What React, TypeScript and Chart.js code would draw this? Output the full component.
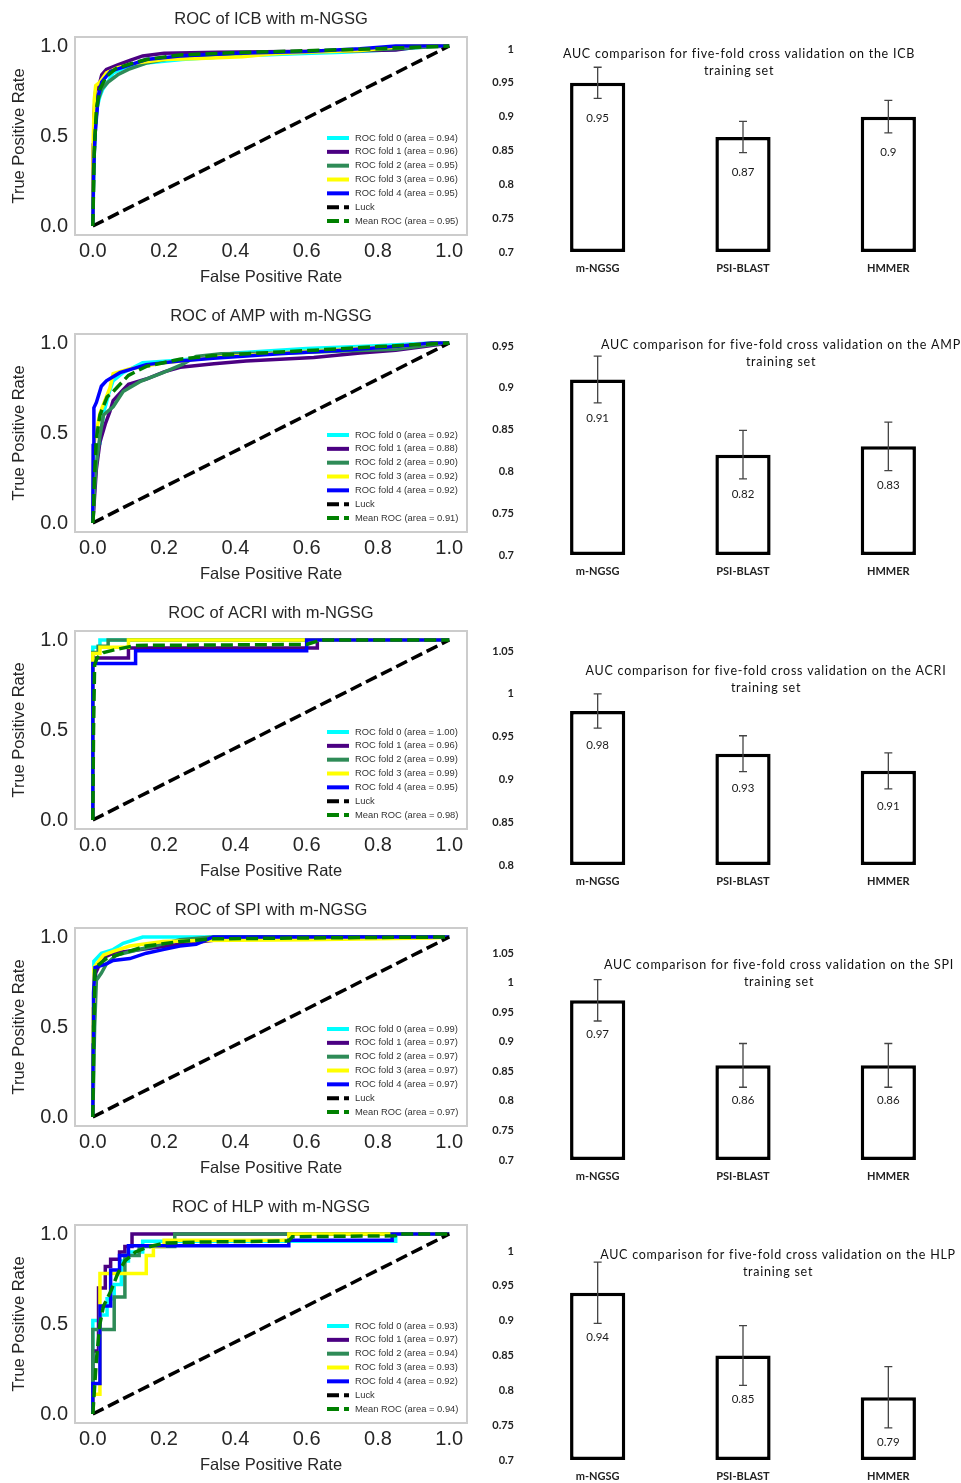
import React, { useEffect, useRef } from 'react';
import { Chart, registerables } from 'chart.js';

Chart.register(...registerables);

type Pt = [number, number];

// ---------- shared ----------
const ROC_X_TICKS = [0, 0.2, 0.4, 0.6, 0.8, 1.0];
const ROC_Y_TICKS = [0, 0.5, 1.0];
const FOLD_COLORS = ['#00ffff', '#4b0082', '#2e8b57', '#ffff00', '#0000ff'];
const LUCK: Pt[] = [[0, 0], [1, 1]];
const BAR_CATEGORIES = ['m-NGSG', 'PSI-BLAST', 'HMMER'];

// ---------- ICB ----------
const ICB_AREAS = [0.94, 0.96, 0.95, 0.96, 0.95];
const ICB_MEAN_AREA = 0.95;
const ICB_FOLD_0: Pt[] = [[0, 0], [0.002, 0.3], [0.006, 0.55], [0.012, 0.66], [0.02, 0.72], [0.028, 0.76], [0.045, 0.81], [0.057, 0.85], [0.08, 0.87], [0.15, 0.905], [0.25, 0.925], [0.4, 0.945], [0.55, 0.955], [0.7, 0.965], [0.85, 0.98], [0.96, 1], [1, 1]];
const ICB_FOLD_1: Pt[] = [[0, 0], [0.001, 0.45], [0.003, 0.62], [0.008, 0.75], [0.02, 0.8], [0.025, 0.84], [0.038, 0.87], [0.07, 0.895], [0.104, 0.92], [0.14, 0.945], [0.2, 0.96], [0.35, 0.965], [0.55, 0.97], [0.7, 0.972], [0.85, 0.978], [0.93, 1], [1, 1]];
const ICB_FOLD_2: Pt[] = [[0, 0], [0.003, 0.35], [0.008, 0.58], [0.015, 0.7], [0.025, 0.76], [0.043, 0.8], [0.07, 0.84], [0.1, 0.87], [0.15, 0.905], [0.244, 0.94], [0.4, 0.955], [0.55, 0.965], [0.75, 0.975], [0.9, 0.99], [1, 1]];
const ICB_FOLD_3: Pt[] = [[0, 0], [0.001, 0.45], [0.004, 0.7], [0.008, 0.78], [0.02, 0.8], [0.038, 0.85], [0.07, 0.88], [0.12, 0.905], [0.2, 0.925], [0.3, 0.93], [0.42, 0.94], [0.5, 0.955], [0.6, 0.965], [0.75, 0.975], [0.88, 1], [1, 1]];
const ICB_FOLD_4: Pt[] = [[0, 0], [0.002, 0.3], [0.006, 0.5], [0.015, 0.72], [0.025, 0.8], [0.05, 0.86], [0.09, 0.885], [0.15, 0.925], [0.244, 0.945], [0.4, 0.96], [0.6, 0.97], [0.75, 0.985], [0.85, 1], [1, 1]];
const ICB_MEAN: Pt[] = [[0, 0], [0.002, 0.2], [0.004, 0.41], [0.01, 0.65], [0.02, 0.76], [0.038, 0.83], [0.065, 0.875], [0.104, 0.9], [0.15, 0.925], [0.244, 0.95], [0.385, 0.962], [0.62, 0.975], [0.8, 0.985], [0.9, 0.993], [1, 1]];
const ICB_AUC = [0.95, 0.87, 0.9];
const ICB_ERR = [0.023, 0.023, 0.024];
const ICB_BAR_TICKS = [0.7, 0.75, 0.8, 0.85, 0.9, 0.95, 1];

// ---------- AMP ----------
const AMP_AREAS = [0.92, 0.88, 0.9, 0.92, 0.92];
const AMP_MEAN_AREA = 0.91;
const AMP_FOLD_0: Pt[] = [[0, 0], [0.002, 0.2], [0.005, 0.41], [0.02, 0.44], [0.025, 0.52], [0.03, 0.61], [0.045, 0.72], [0.057, 0.79], [0.085, 0.835], [0.14, 0.89], [0.25, 0.905], [0.4, 0.945], [0.6, 0.97], [0.8, 0.985], [0.95, 1], [1, 1]];
const AMP_FOLD_1: Pt[] = [[0, 0], [0.005, 0.15], [0.01, 0.3], [0.02, 0.45], [0.035, 0.55], [0.048, 0.62], [0.057, 0.68], [0.08, 0.73], [0.1, 0.77], [0.15, 0.8], [0.2, 0.84], [0.245, 0.865], [0.34, 0.885], [0.43, 0.9], [0.62, 0.92], [0.75, 0.945], [0.85, 0.96], [0.93, 0.98], [1, 1]];
const AMP_FOLD_2: Pt[] = [[0, 0], [0.005, 0.2], [0.01, 0.33], [0.02, 0.485], [0.03, 0.6], [0.057, 0.645], [0.085, 0.73], [0.132, 0.785], [0.197, 0.835], [0.25, 0.88], [0.29, 0.925], [0.36, 0.94], [0.55, 0.945], [0.7, 0.955], [0.85, 0.965], [0.95, 0.99], [1, 1]];
const AMP_FOLD_3: Pt[] = [[0, 0], [0.002, 0.43], [0.02, 0.61], [0.048, 0.75], [0.057, 0.83], [0.1, 0.855], [0.2, 0.89], [0.34, 0.92], [0.52, 0.945], [0.7, 0.965], [0.85, 0.98], [0.95, 1], [1, 1]];
const AMP_FOLD_4: Pt[] = [[0, 0], [0.001, 0.43], [0.003, 0.64], [0.01, 0.67], [0.024, 0.76], [0.038, 0.79], [0.076, 0.835], [0.15, 0.88], [0.244, 0.9], [0.338, 0.915], [0.525, 0.94], [0.7, 0.96], [0.85, 0.98], [0.95, 1], [1, 1]];
const AMP_MEAN: Pt[] = [[0, 0], [0.002, 0.06], [0.004, 0.23], [0.01, 0.47], [0.02, 0.6], [0.04, 0.7], [0.057, 0.73], [0.1, 0.82], [0.15, 0.87], [0.244, 0.91], [0.338, 0.93], [0.525, 0.95], [0.62, 0.96], [0.8, 0.98], [0.9, 0.99], [1, 1]];
const AMP_AUC = [0.91, 0.82, 0.83];
const AMP_ERR = [0.028, 0.029, 0.029];
const AMP_BAR_TICKS = [0.7, 0.75, 0.8, 0.85, 0.9, 0.95];

// ---------- ACRI ----------
const ACRI_AREAS = [1.0, 0.96, 0.99, 0.99, 0.95];
const ACRI_MEAN_AREA = 0.98;
const ACRI_FOLD_0: Pt[] = [[0, 0], [0, 0.96], [0.02, 0.96], [0.02, 1], [1, 1]];
const ACRI_FOLD_1: Pt[] = [[0, 0], [0, 0.9], [0.1, 0.9], [0.1, 0.955], [0.63, 0.955], [0.63, 1], [1, 1]];
const ACRI_FOLD_2: Pt[] = [[0, 0], [0, 0.93], [0.015, 0.93], [0.015, 0.965], [0.043, 0.965], [0.043, 1], [1, 1]];
const ACRI_FOLD_3: Pt[] = [[0, 0], [0, 0.925], [0.02, 0.925], [0.02, 0.96], [0.1, 0.96], [0.1, 1], [1, 1]];
const ACRI_FOLD_4: Pt[] = [[0, 0], [0, 0.87], [0.12, 0.87], [0.12, 0.94], [0.6, 0.94], [0.6, 1], [1, 1]];
const ACRI_MEAN: Pt[] = [[0, 0], [0.002, 0.5], [0.005, 0.86], [0.012, 0.9], [0.03, 0.93], [0.06, 0.945], [0.12, 0.97], [0.6, 0.975], [0.64, 1], [1, 1]];
const ACRI_AUC = [0.98, 0.93, 0.91];
const ACRI_ERR = [0.02, 0.021, 0.021];
const ACRI_BAR_TICKS = [0.8, 0.85, 0.9, 0.95, 1, 1.05];

// ---------- SPI ----------
const SPI_AREAS = [0.99, 0.97, 0.97, 0.97, 0.97];
const SPI_MEAN_AREA = 0.97;
const SPI_FOLD_0: Pt[] = [[0, 0], [0.001, 0.5], [0.003, 0.865], [0.024, 0.91], [0.057, 0.93], [0.085, 0.965], [0.14, 1], [1, 1]];
const SPI_FOLD_1: Pt[] = [[0, 0], [0.002, 0.5], [0.008, 0.8], [0.015, 0.83], [0.024, 0.88], [0.057, 0.91], [0.15, 0.935], [0.245, 0.96], [0.35, 0.985], [0.45, 1], [1, 1]];
const SPI_FOLD_2: Pt[] = [[0, 0], [0.005, 0.5], [0.01, 0.76], [0.024, 0.8], [0.038, 0.85], [0.066, 0.9], [0.15, 0.94], [0.245, 0.985], [0.338, 1], [1, 1]];
const SPI_FOLD_3: Pt[] = [[0, 0], [0.001, 0.6], [0.003, 0.83], [0.03, 0.9], [0.057, 0.92], [0.104, 0.95], [0.197, 0.975], [0.3, 0.98], [0.6, 0.985], [0.95, 0.995], [1, 1]];
const SPI_FOLD_4: Pt[] = [[0, 0], [0.001, 0.4], [0.002, 0.69], [0.006, 0.83], [0.038, 0.85], [0.057, 0.87], [0.104, 0.88], [0.15, 0.91], [0.197, 0.93], [0.244, 0.95], [0.29, 0.96], [0.338, 1], [1, 1]];
const SPI_MEAN: Pt[] = [[0, 0], [0.003, 0.5], [0.006, 0.83], [0.038, 0.88], [0.085, 0.91], [0.15, 0.95], [0.244, 0.975], [0.338, 0.99], [0.62, 0.995], [1, 1]];
const SPI_AUC = [0.97, 0.86, 0.86];
const SPI_ERR = [0.035, 0.037, 0.037];
const SPI_BAR_TICKS = [0.7, 0.75, 0.8, 0.85, 0.9, 0.95, 1, 1.05];

// ---------- HLP ----------
const HLP_AREAS = [0.93, 0.97, 0.94, 0.93, 0.92];
const HLP_MEAN_AREA = 0.94;
const HLP_FOLD_0: Pt[] = [[0, 0], [0, 0.52], [0.02, 0.52], [0.02, 0.55], [0.04, 0.55], [0.04, 0.64], [0.06, 0.64], [0.06, 0.72], [0.08, 0.72], [0.08, 0.85], [0.1, 0.85], [0.1, 0.9], [0.14, 0.9], [0.14, 0.96], [0.85, 0.96], [0.85, 1], [1, 1]];
const HLP_FOLD_1: Pt[] = [[0, 0], [0, 0.35], [0.016, 0.35], [0.016, 0.7], [0.035, 0.7], [0.035, 0.82], [0.05, 0.82], [0.05, 0.86], [0.075, 0.86], [0.075, 0.9], [0.09, 0.9], [0.09, 0.93], [0.11, 0.93], [0.11, 1], [1, 1]];
const HLP_FOLD_2: Pt[] = [[0, 0], [0, 0.47], [0.06, 0.47], [0.06, 0.65], [0.09, 0.65], [0.09, 0.88], [0.13, 0.88], [0.13, 0.93], [0.23, 0.93], [0.23, 1], [1, 1]];
const HLP_FOLD_3: Pt[] = [[0, 0], [0, 0.11], [0.02, 0.11], [0.02, 0.78], [0.15, 0.78], [0.15, 0.88], [0.17, 0.88], [0.17, 0.93], [0.2, 0.93], [0.2, 0.965], [0.55, 0.965], [0.55, 1], [1, 1]];
const HLP_FOLD_4: Pt[] = [[0, 0], [0, 0.17], [0.02, 0.17], [0.02, 0.6], [0.05, 0.6], [0.05, 0.8], [0.075, 0.8], [0.075, 0.88], [0.1, 0.88], [0.1, 0.935], [0.55, 0.935], [0.55, 0.965], [0.84, 0.965], [0.84, 1], [1, 1]];
const HLP_MEAN: Pt[] = [[0, 0], [0.01, 0.3], [0.02, 0.5], [0.03, 0.6], [0.05, 0.68], [0.07, 0.78], [0.09, 0.85], [0.12, 0.9], [0.15, 0.925], [0.2, 0.95], [0.3, 0.955], [0.55, 0.962], [0.56, 0.985], [0.85, 0.99], [0.86, 1], [1, 1]];
const HLP_AUC = [0.94, 0.85, 0.79];
const HLP_ERR = [0.044, 0.043, 0.044];
const HLP_BAR_TICKS = [0.7, 0.75, 0.8, 0.85, 0.9, 0.95, 1];

// ---------- assembled rows (built from the arrays above) ----------
const ROWS = [
  { name: 'ICB', folds: [ICB_FOLD_0, ICB_FOLD_1, ICB_FOLD_2, ICB_FOLD_3, ICB_FOLD_4], areas: ICB_AREAS, mean: ICB_MEAN, meanArea: ICB_MEAN_AREA, auc: ICB_AUC, err: ICB_ERR, ticks: ICB_BAR_TICKS },
  { name: 'AMP', folds: [AMP_FOLD_0, AMP_FOLD_1, AMP_FOLD_2, AMP_FOLD_3, AMP_FOLD_4], areas: AMP_AREAS, mean: AMP_MEAN, meanArea: AMP_MEAN_AREA, auc: AMP_AUC, err: AMP_ERR, ticks: AMP_BAR_TICKS },
  { name: 'ACRI', folds: [ACRI_FOLD_0, ACRI_FOLD_1, ACRI_FOLD_2, ACRI_FOLD_3, ACRI_FOLD_4], areas: ACRI_AREAS, mean: ACRI_MEAN, meanArea: ACRI_MEAN_AREA, auc: ACRI_AUC, err: ACRI_ERR, ticks: ACRI_BAR_TICKS },
  { name: 'SPI', folds: [SPI_FOLD_0, SPI_FOLD_1, SPI_FOLD_2, SPI_FOLD_3, SPI_FOLD_4], areas: SPI_AREAS, mean: SPI_MEAN, meanArea: SPI_MEAN_AREA, auc: SPI_AUC, err: SPI_ERR, ticks: SPI_BAR_TICKS },
  { name: 'HLP', folds: [HLP_FOLD_0, HLP_FOLD_1, HLP_FOLD_2, HLP_FOLD_3, HLP_FOLD_4], areas: HLP_AREAS, mean: HLP_MEAN, meanArea: HLP_MEAN_AREA, auc: HLP_AUC, err: HLP_ERR, ticks: HLP_BAR_TICKS },
];

// layout (pixels), separate from the data
const ROW_STEP = 297;
const BAR_LAYOUT = [
  { areaTop: 49, areaBottom: 252, titleX: 259, titleY: 54, labelGap: 19.5 },
  { areaTop: 49, areaBottom: 258, titleX: 301, titleY: 48, labelGap: 15 },
  { areaTop: 57, areaBottom: 271, titleX: 286, titleY: 77, labelGap: 17 },
  { areaTop: 62, areaBottom: 269, titleX: 299, titleY: 74, labelGap: 13 },
  { areaTop: 63, areaBottom: 272, titleX: 298, titleY: 67, labelGap: 14 },
];

const SANS = '"Liberation Sans", Arial, sans-serif';
const CAL = 'Lato, "Open Sans", sans-serif';
const TXT = '#262626';

// ---------- plugins ----------
const framePlugin = {
  id: 'rocFrame',
  afterDraw(chart: any) {
    const { ctx, chartArea: ca } = chart;
    ctx.save();
    ctx.strokeStyle = '#cccccc';
    ctx.lineWidth = 2;
    ctx.strokeRect(ca.left, ca.top, ca.right - ca.left, ca.bottom - ca.top);
    ctx.restore();
  },
};

const rocLegendPlugin = {
  id: 'rocLegend',
  afterDraw(chart: any) {
    const { ctx, chartArea: ca } = chart;
    const ds = chart.data.datasets;
    const n = ds.length;
    ctx.save();
    ctx.font = `9.4px ${SANS}`;
    ctx.textBaseline = 'middle';
    ctx.textAlign = 'left';
    ds.forEach((d: any, i: number) => {
      const y = ca.bottom - 14 - (n - 1 - i) * 13.83;
      ctx.strokeStyle = d.borderColor;
      ctx.lineWidth = 4;
      ctx.lineCap = 'butt';
      ctx.setLineDash(d.borderDash || []);
      ctx.beginPath();
      ctx.moveTo(ca.right - 140, y);
      ctx.lineTo(ca.right - 118, y);
      ctx.stroke();
      ctx.setLineDash([]);
      ctx.fillStyle = '#333333';
      ctx.fillText(d.label, ca.right - 112, y);
    });
    ctx.restore();
  },
};

const barTitlePlugin = {
  id: 'barTitle',
  afterDraw(chart: any, _args: any, opts: any) {
    const { ctx } = chart;
    ctx.save();
    ctx.font = `${opts.size}px ${CAL}`;
    ctx.fillStyle = '#111111';
    ctx.textAlign = 'center';
    ctx.textBaseline = 'middle';
    if ('letterSpacing' in ctx) (ctx as any).letterSpacing = `${opts.spacing}px`;
    (opts.lines as string[]).forEach((l, i) => ctx.fillText(l, opts.x, opts.y + i * opts.gap));
    ctx.restore();
  },
};

const barExtrasPlugin = {
  id: 'barExtras',
  afterDatasetsDraw(chart: any, _args: any, opts: any) {
    const { ctx } = chart;
    const meta = chart.getDatasetMeta(0);
    const ys = chart.scales.y;
    const vals = chart.data.datasets[0].data as number[];
    const errs = opts.errors as number[];
    ctx.save();
    meta.data.forEach((bar: any, i: number) => {
      const v = vals[i];
      const e = errs[i];
      const x = bar.x;
      const yT = ys.getPixelForValue(v + e);
      const yB = ys.getPixelForValue(v - e);
      ctx.strokeStyle = '#444444';
      ctx.lineWidth = 1.3;
      ctx.beginPath();
      ctx.moveTo(x, yT); ctx.lineTo(x, yB);
      ctx.moveTo(x - 4, yT); ctx.lineTo(x + 4, yT);
      ctx.moveTo(x - 4, yB); ctx.lineTo(x + 4, yB);
      ctx.stroke();
      ctx.fillStyle = '#1a1a1a';
      ctx.font = `11.5px ${CAL}`;
      ctx.textAlign = 'center';
      ctx.textBaseline = 'middle';
      ctx.fillText(String(v), x, yB + opts.labelGap);
    });
    ctx.restore();
  },
};

// ---------- components ----------
function RocChart({ row, index }: { row: any; index: number }) {
  const ref = useRef<HTMLCanvasElement>(null);
  useEffect(() => {
    if (!ref.current) return;
    const toXY = (a: Pt[]) => a.map(([x, y]) => ({ x, y }));
    const datasets: any[] = row.folds.map((f: Pt[], i: number) => ({
      label: `ROC fold ${i} (area = ${row.areas[i].toFixed(2)})`,
      data: toXY(f),
      borderColor: FOLD_COLORS[i],
      borderWidth: 3.5,
      order: 10 - i,
    }));
    datasets.push({ label: 'Luck', data: toXY(LUCK), borderColor: '#000000', borderWidth: 3.5, borderDash: [12, 5], order: 2 });
    datasets.push({ label: `Mean ROC (area = ${row.meanArea.toFixed(2)})`, data: toXY(row.mean), borderColor: '#008000', borderWidth: 3.5, borderDash: [12, 5], order: 1 });

    const tickFont = { family: SANS, size: 20 };
    const labFont = { family: SANS, size: 16.5, weight: 'normal' as const };
    const chart = new Chart(ref.current, {
      type: 'line',
      data: { datasets },
      options: {
        responsive: false,
        animation: false,
        devicePixelRatio: 1,
        layout: { padding: { left: 0, right: 13, top: 0, bottom: 0 } },
        elements: { point: { radius: 0 }, line: { tension: 0, fill: false, borderJoinStyle: 'miter' } },
        plugins: {
          legend: { display: false },
          tooltip: { enabled: false },
          title: { display: true, text: `ROC of ${row.name} with m-NGSG`, fullSize: false, font: labFont, color: TXT, padding: { top: 10, bottom: 7.2 } },
        },
        scales: {
          x: {
            type: 'linear', min: -0.05, max: 1.05, bounds: 'data',
            grid: { display: false, drawTicks: false }, border: { display: false },
            ticks: { font: tickFont, color: TXT, padding: 4, maxRotation: 0, callback: (v: any) => Number(v).toFixed(1) },
            afterBuildTicks: (a: any) => { a.ticks = ROC_X_TICKS.map((value) => ({ value })); },
            afterFit: (s: any) => { s.height = 55; },
            title: { display: true, text: 'False Positive Rate', font: labFont, color: TXT, padding: { top: 0, bottom: 3 } },
          },
          y: {
            type: 'linear', min: -0.05, max: 1.05, bounds: 'data',
            grid: { display: false, drawTicks: false }, border: { display: false },
            ticks: { font: tickFont, color: TXT, padding: 7, callback: (v: any) => Number(v).toFixed(1) },
            afterBuildTicks: (a: any) => { a.ticks = ROC_Y_TICKS.map((value) => ({ value })); },
            afterFit: (s: any) => { s.width = 75; },
            title: { display: true, text: 'True Positive Rate', font: labFont, color: TXT, padding: { top: 10, bottom: 0 } },
          },
        },
      } as any,
      plugins: [framePlugin, rocLegendPlugin],
    });
    return () => chart.destroy();
  }, [row]);
  return (
    <canvas ref={ref} width={480} height={290}
      style={{ position: 'absolute', left: 0, top: index * ROW_STEP, width: 480, height: 290 }} />
  );
}

function BarChart({ row, index }: { row: any; index: number }) {
  const ref = useRef<HTMLCanvasElement>(null);
  const lay = BAR_LAYOUT[index];
  const h = lay.areaBottom + 22;
  useEffect(() => {
    if (!ref.current) return;
    const ticks: number[] = row.ticks;
    const catFont = { family: CAL, size: 11, weight: 'bold' as const };
    const chart = new Chart(ref.current, {
      type: 'bar',
      data: {
        labels: BAR_CATEGORIES,
        datasets: [{
          data: row.auc,
          base: ticks[0],
          backgroundColor: '#ffffff',
          borderColor: '#000000',
          borderWidth: 3.5,
          borderSkipped: false,
          categoryPercentage: 1,
          barPercentage: 0.38,
        }],
      },
      options: {
        responsive: false,
        animation: false,
        devicePixelRatio: 1,
        layout: { padding: { left: 0, right: 0, top: lay.areaTop, bottom: 0 } },
        plugins: {
          legend: { display: false },
          tooltip: { enabled: false },
          barTitle: {
            lines: [`AUC comparison for five-fold cross validation on the ${row.name}`, 'training set'],
            x: lay.titleX, y: lay.titleY, gap: 16.7, size: 12.5, spacing: 0.75,
          },
          barExtras: { errors: row.err, labelGap: lay.labelGap },
        },
        scales: {
          x: {
            grid: { display: false, drawTicks: false }, border: { display: false },
            ticks: { font: catFont, color: '#222222', padding: 9.5 },
            afterFit: (s: any) => { s.height = 22; },
          },
          y: {
            min: ticks[0], max: ticks[ticks.length - 1], bounds: 'data',
            grid: { display: false, drawTicks: false }, border: { display: false },
            ticks: { font: catFont, color: '#222222', padding: 11, callback: (v: any) => String(parseFloat(Number(v).toFixed(2))) },
            afterBuildTicks: (a: any) => { a.ticks = ticks.map((value) => ({ value })); },
            afterFit: (s: any) => { s.width = 45; },
          },
        },
      } as any,
      plugins: [barTitlePlugin, barExtrasPlugin],
    });
    return () => chart.destroy();
  }, [row]);
  return (
    <canvas ref={ref} width={481} height={h}
      style={{ position: 'absolute', left: 480, top: index * ROW_STEP, width: 481, height: h }} />
  );
}

export default function App() {
  return (
    <div style={{ position: 'absolute', left: 0, top: 0, width: 961, height: 1483, overflow: 'hidden', background: '#ffffff' }}>
      {ROWS.map((row, i) => (
        <React.Fragment key={row.name}>
          <RocChart row={row} index={i} />
          <BarChart row={row} index={i} />
        </React.Fragment>
      ))}
    </div>
  );
}
